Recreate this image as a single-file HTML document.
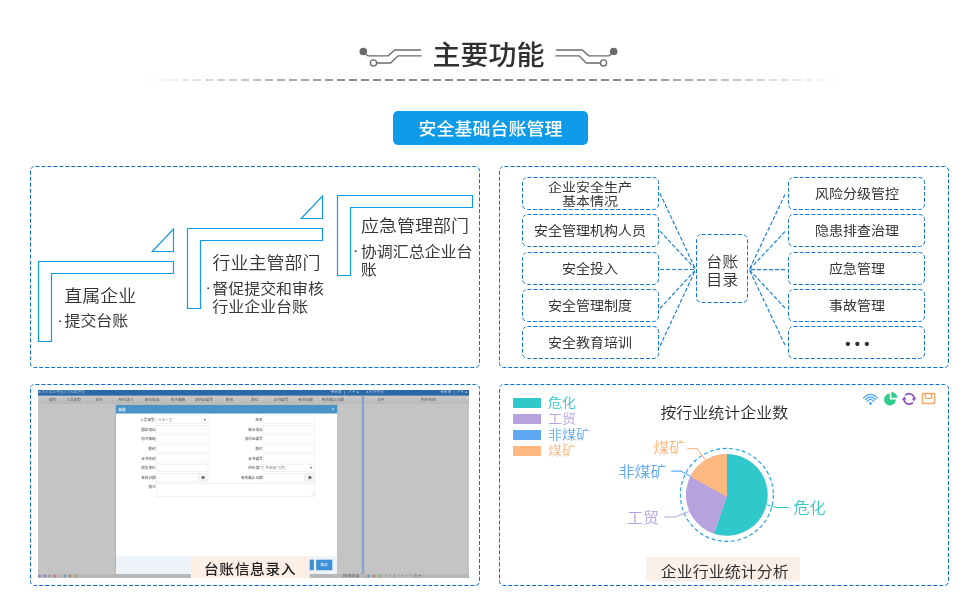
<!DOCTYPE html>
<html lang="zh-CN">
<head>
<meta charset="utf-8">
<title>主要功能 - 安全基础台账管理</title>
<style>
  html, body { margin: 0; padding: 0; background: #fff; }
  body { width: 980px; height: 613px; overflow: hidden; position: relative;
         font-family: "Liberation Sans", "Noto Sans CJK SC", sans-serif; }
  svg { position: absolute; left: 0; top: 0; display: block; will-change: transform; }
  text { font-family: "Liberation Sans", "Noto Sans CJK SC", sans-serif; }
  .panel { fill: none; stroke: #0a70d2; stroke-width: 1; }
  .box { fill: #fff; stroke: #1276d5; stroke-width: 1; }
  .ln { fill: none; stroke: #1e80da; stroke-width: 1.2; stroke-dasharray: 4 2; }
  .step { fill: #fff; stroke: #129aea; stroke-width: 1.2; stroke-linejoin: miter; }
</style>
</head>
<body>
<svg width="980" height="613" viewBox="0 0 980 613">
  <defs>
    <linearGradient id="fade" gradientUnits="userSpaceOnUse" x1="140" y1="0" x2="840" y2="0">
      <stop offset="0" stop-color="#8c8c8c" stop-opacity="0"/>
      <stop offset="0.3" stop-color="#8c8c8c" stop-opacity="1"/>
      <stop offset="0.7" stop-color="#8c8c8c" stop-opacity="1"/>
      <stop offset="1" stop-color="#8c8c8c" stop-opacity="0"/>
    </linearGradient>
    <linearGradient id="hdr" x1="0" y1="0" x2="0" y2="1">
      <stop offset="0" stop-color="#cbcbcb"/>
      <stop offset="1" stop-color="#b9b9b9"/>
    </linearGradient>
    <filter id="blur" x="-2%" y="-2%" width="104%" height="104%">
      <feGaussianBlur stdDeviation="0.65"/>
    </filter>
    <clipPath id="shotclip"><rect x="38" y="390" width="430.6" height="187.7"/></clipPath>
  </defs>

  <!-- ===== Title ===== -->
  <g id="title">
    <g fill="none" stroke="#6a6a6a" stroke-width="1.3">
      <polyline points="365.5,54 368,55.8 388.2,55.8 394.8,50 421,50"/>
      <polyline points="376.8,63 390.6,63 398,55.8 421.6,55.8"/>
      <circle cx="373.5" cy="63" r="3.1" fill="#fff"/>
      <polyline points="611.5,54 609,55.8 588.8,55.8 582.2,50 556,50"/>
      <polyline points="600.2,63 586.4,63 579,55.8 555.4,55.8"/>
      <circle cx="603.5" cy="63" r="3.1" fill="#fff"/>
    </g>
    <circle cx="363.3" cy="51.5" r="3.8" fill="#6a6a6a"/>
    <circle cx="613.7" cy="51.5" r="3.8" fill="#6a6a6a"/>
    <text transform="translate(488.5 65) scale(1 0.96)" font-size="28" font-weight="500" fill="#303030" text-anchor="middle">主要功能</text>
    <line x1="145" y1="80" x2="836" y2="80" stroke="url(#fade)" stroke-width="2" stroke-dasharray="8 4"/>
  </g>

  <!-- ===== Blue pill ===== -->
  <g id="pill">
    <rect x="393" y="111" width="195" height="34" rx="5" ry="5" fill="#0e9be9"/>
    <text transform="translate(490.5 134.5) scale(1 0.97)" font-size="18" font-weight="500" fill="#fff" text-anchor="middle">安全基础台账管理</text>
  </g>

  <!-- ===== Panel borders ===== -->
  <path class="panel" d="M31.672 167.672A4 4 0 0 1 34.5 166.5H475.5A4 4 0 0 1 479.5 170.5V363.5A4 4 0 0 1 475.5 367.5H34.5A4 4 0 0 1 30.5 363.5V170.5A4 4 0 0 1 31.672 167.672Z" stroke-dasharray="4 1.9867" stroke-dashoffset="2"/>
  <path class="panel" d="M500.672 167.672A4 4 0 0 1 503.5 166.5H944.5A4 4 0 0 1 948.5 170.5V363.5A4 4 0 0 1 944.5 367.5H503.5A4 4 0 0 1 499.5 363.5V170.5A4 4 0 0 1 500.672 167.672Z" stroke-dasharray="4 1.9867" stroke-dashoffset="2"/>
  <path class="panel" d="M31.672 385.672A4 4 0 0 1 34.5 384.5H475.5A4 4 0 0 1 479.5 388.5V581.5A4 4 0 0 1 475.5 585.5H34.5A4 4 0 0 1 30.5 581.5V388.5A4 4 0 0 1 31.672 385.672Z" stroke-dasharray="4 1.9867" stroke-dashoffset="2"/>
  <path class="panel" d="M500.672 385.672A4 4 0 0 1 503.5 384.5H944.5A4 4 0 0 1 948.5 388.5V581.5A4 4 0 0 1 944.5 585.5H503.5A4 4 0 0 1 499.5 581.5V388.5A4 4 0 0 1 500.672 385.672Z" stroke-dasharray="4 1.9867" stroke-dashoffset="2"/>

  <!-- ===== Panel 1: steps ===== -->
  <g id="steps">
    <path class="step" d="M38.5 261.5H173.5V273.5H51.5V341.5H38.5Z"/>
    <path class="step" d="M152.2 251.5H173.5V229Z"/>
    <path class="step" d="M187.5 228.5H322.5V240.5H200.5V308.5H187.5Z"/>
    <path class="step" d="M301.2 218.5H322.5V196Z"/>
    <path class="step" d="M337.5 195.5H472.5V207.5H350.5V275.5H337.5Z"/>
    <text transform="translate(64.3 302) scale(1 0.945)" font-size="18" font-weight="350" fill="#333">直属企业</text>
    <text transform="translate(57.4 324.59999999999997) scale(1 0.945)" font-size="16" font-weight="400" fill="#222">·</text>
    <text transform="translate(64.4 326.2) scale(1 0.945)" font-size="16" font-weight="400" fill="#383838">提交台账</text>
    <text transform="translate(212.5 269) scale(1 0.945)" font-size="18" font-weight="350" fill="#333">行业主管部门</text>
    <text transform="translate(205.6 292.2) scale(1 0.945)" font-size="16" font-weight="400" fill="#222">·</text>
    <text transform="translate(212.2 293.8) scale(1 0.945)" font-size="16" font-weight="400" fill="#383838">督促提交和审核</text>
    <text transform="translate(212.2 312.1) scale(1 0.945)" font-size="16" font-weight="400" fill="#383838">行业企业台账</text>
    <text transform="translate(361.0 232) scale(1 0.945)" font-size="18" font-weight="350" fill="#333">应急管理部门</text>
    <text transform="translate(352.90000000000003 255.20000000000002) scale(1 0.945)" font-size="16" font-weight="400" fill="#222">·</text>
    <text transform="translate(360.7 256.8) scale(1 0.945)" font-size="16" font-weight="400" fill="#383838">协调汇总企业台</text>
    <text transform="translate(360.7 275.1) scale(1 0.945)" font-size="16" font-weight="400" fill="#383838">账</text>
  </g>

  <!-- ===== Panel 2: catalogue ===== -->
  <g id="catalogue">
    <g class="ln">
      <line x1="660" y1="193.4" x2="695" y2="268.2"/>
      <line x1="660" y1="231.2" x2="695" y2="268.6"/>
      <line x1="660" y1="269.5" x2="695" y2="269.5"/>
      <line x1="660" y1="308.5" x2="695" y2="270.6"/>
      <line x1="660" y1="346" x2="695" y2="271"/>
      <line x1="785" y1="194.5" x2="749.3" y2="269.6"/>
      <line x1="785" y1="231.5" x2="749.3" y2="269.6"/>
      <line x1="785" y1="269.6" x2="749.3" y2="269.6"/>
      <line x1="785" y1="308" x2="749.3" y2="269.6"/>
      <line x1="785" y1="345" x2="749.3" y2="269.6"/>
    </g>
    <path class="box" d="M523.964 178.964A5 5 0 0 1 527.5 177.5H653.5A5 5 0 0 1 658.5 182.5V204.5A5 5 0 0 1 653.5 209.5H527.5A5 5 0 0 1 522.5 204.5V182.5A5 5 0 0 1 523.964 178.964Z" stroke-dasharray="4 1.9530" stroke-dashoffset="2"/>
    <path class="box" d="M523.964 215.964A5 5 0 0 1 527.5 214.5H653.5A5 5 0 0 1 658.5 219.5V241.5A5 5 0 0 1 653.5 246.5H527.5A5 5 0 0 1 522.5 241.5V219.5A5 5 0 0 1 523.964 215.964Z" stroke-dasharray="4 1.9530" stroke-dashoffset="2"/>
    <path class="box" d="M523.964 253.964A5 5 0 0 1 527.5 252.5H653.5A5 5 0 0 1 658.5 257.5V279.5A5 5 0 0 1 653.5 284.5H527.5A5 5 0 0 1 522.5 279.5V257.5A5 5 0 0 1 523.964 253.964Z" stroke-dasharray="4 1.9530" stroke-dashoffset="2"/>
    <path class="box" d="M523.964 290.964A5 5 0 0 1 527.5 289.5H653.5A5 5 0 0 1 658.5 294.5V316.5A5 5 0 0 1 653.5 321.5H527.5A5 5 0 0 1 522.5 316.5V294.5A5 5 0 0 1 523.964 290.964Z" stroke-dasharray="4 1.9530" stroke-dashoffset="2"/>
    <path class="box" d="M523.964 327.964A5 5 0 0 1 527.5 326.5H653.5A5 5 0 0 1 658.5 331.5V353.5A5 5 0 0 1 653.5 358.5H527.5A5 5 0 0 1 522.5 353.5V331.5A5 5 0 0 1 523.964 327.964Z" stroke-dasharray="4 1.9530" stroke-dashoffset="2"/>
    <path class="box" d="M697.964 235.964A5 5 0 0 1 701.5 234.5H742.5A5 5 0 0 1 747.5 239.5V297.5A5 5 0 0 1 742.5 302.5H701.5A5 5 0 0 1 696.5 297.5V239.5A5 5 0 0 1 697.964 235.964Z" stroke-dasharray="4 2.0373" stroke-dashoffset="2"/>
    <path class="box" d="M789.964 178.964A5 5 0 0 1 793.5 177.5H919.5A5 5 0 0 1 924.5 182.5V204.5A5 5 0 0 1 919.5 209.5H793.5A5 5 0 0 1 788.5 204.5V182.5A5 5 0 0 1 789.964 178.964Z" stroke-dasharray="4 1.9530" stroke-dashoffset="2"/>
    <path class="box" d="M789.964 215.964A5 5 0 0 1 793.5 214.5H919.5A5 5 0 0 1 924.5 219.5V241.5A5 5 0 0 1 919.5 246.5H793.5A5 5 0 0 1 788.5 241.5V219.5A5 5 0 0 1 789.964 215.964Z" stroke-dasharray="4 1.9530" stroke-dashoffset="2"/>
    <path class="box" d="M789.964 253.964A5 5 0 0 1 793.5 252.5H919.5A5 5 0 0 1 924.5 257.5V279.5A5 5 0 0 1 919.5 284.5H793.5A5 5 0 0 1 788.5 279.5V257.5A5 5 0 0 1 789.964 253.964Z" stroke-dasharray="4 1.9530" stroke-dashoffset="2"/>
    <path class="box" d="M789.964 290.964A5 5 0 0 1 793.5 289.5H919.5A5 5 0 0 1 924.5 294.5V316.5A5 5 0 0 1 919.5 321.5H793.5A5 5 0 0 1 788.5 316.5V294.5A5 5 0 0 1 789.964 290.964Z" stroke-dasharray="4 1.9530" stroke-dashoffset="2"/>
    <path class="box" d="M789.964 327.964A5 5 0 0 1 793.5 326.5H919.5A5 5 0 0 1 924.5 331.5V353.5A5 5 0 0 1 919.5 358.5H793.5A5 5 0 0 1 788.5 353.5V331.5A5 5 0 0 1 789.964 327.964Z" stroke-dasharray="4 1.9530" stroke-dashoffset="2"/>
    <text transform="translate(590 191.6) scale(1 0.88)" font-size="14" font-weight="400" fill="#333" text-anchor="middle">企业安全生产</text>
    <text transform="translate(590 205.5) scale(1 0.88)" font-size="14" font-weight="400" fill="#333" text-anchor="middle">基本情况</text>
    <text transform="translate(590 235.1) scale(1 0.93)" font-size="14" font-weight="400" fill="#333" text-anchor="middle">安全管理机构人员</text>
    <text transform="translate(590 273.1) scale(1 0.93)" font-size="14" font-weight="400" fill="#333" text-anchor="middle">安全投入</text>
    <text transform="translate(590 310.1) scale(1 0.93)" font-size="14" font-weight="400" fill="#333" text-anchor="middle">安全管理制度</text>
    <text transform="translate(590 347.1) scale(1 0.93)" font-size="14" font-weight="400" fill="#333" text-anchor="middle">安全教育培训</text>
    <text transform="translate(722.2 266.6) scale(1 0.945)" font-size="16" font-weight="350" fill="#333" text-anchor="middle">台账</text>
    <text transform="translate(722.2 284.8) scale(1 0.945)" font-size="16" font-weight="350" fill="#333" text-anchor="middle">目录</text>
    <text transform="translate(857 198.1) scale(1 0.93)" font-size="14" font-weight="400" fill="#333" text-anchor="middle">风险分级管控</text>
    <text transform="translate(857 235.1) scale(1 0.93)" font-size="14" font-weight="400" fill="#333" text-anchor="middle">隐患排查治理</text>
    <text transform="translate(857 273.1) scale(1 0.93)" font-size="14" font-weight="400" fill="#333" text-anchor="middle">应急管理</text>
    <text transform="translate(857 310.1) scale(1 0.93)" font-size="14" font-weight="400" fill="#333" text-anchor="middle">事故管理</text>
    <text x="845.3" y="349.2" font-size="15" font-weight="700" fill="#333" letter-spacing="4.2">•••</text>
  </g>

  <!-- ===== Panel 3: data entry screenshot ===== -->
  <g id="shot" clip-path="url(#shotclip)">
    <g filter="url(#blur)">
      <rect x="36" y="388" width="435" height="192" fill="#c4c4c4"/>
      <rect x="36" y="395.6" width="435" height="8.3" fill="url(#hdr)"/>
      <rect x="36" y="386" width="435" height="9.6" fill="#2a68a8"/>
      <rect x="361.8" y="395.6" width="2.3" height="185" fill="#86a3cb"/>
      <rect x="36" y="574.1" width="435" height="6" fill="#b8b8b8"/>
      <text x="38.6" y="392.6" font-size="3.6" font-weight="400" fill="#a9c1df" text-anchor="start" opacity="0.85">■ 企业安全管理人员档案管理</text>
      <text x="341.5" y="393.4" font-size="3.7" font-weight="500" fill="#b9cde6" text-anchor="end" opacity="0.85">✚新增</text>
      <text x="359.5" y="393.4" font-size="3.9" font-weight="500" fill="#b9cde6" text-anchor="end" opacity="0.85">↗▼▲</text>
      <rect x="344.2" y="390.5" width="0.5" height="4.6" fill="#9bb8d8"/>
      <text x="366.2" y="392.6" font-size="3.6" font-weight="400" fill="#a9c1df" text-anchor="start" opacity="0.85">■ 附件管理</text>
      <text x="451.2" y="393.4" font-size="3.7" font-weight="500" fill="#b9cde6" text-anchor="end" opacity="0.85">✚新增</text>
      <text x="456.4" y="393.4" font-size="3.9" font-weight="500" fill="#b9cde6" text-anchor="start" opacity="0.85">↗▼▲</text>
      <rect x="453.8" y="390.5" width="0.5" height="4.6" fill="#9bb8d8"/>
      <text x="52.8" y="401.1" font-size="3.7" font-weight="500" fill="#585858" text-anchor="middle" opacity="0.85">操作</text>
      <text x="73.7" y="401.1" font-size="3.7" font-weight="500" fill="#585858" text-anchor="middle" opacity="0.85">人员类型</text>
      <text x="99.3" y="401.1" font-size="3.7" font-weight="500" fill="#585858" text-anchor="middle" opacity="0.85">姓名</text>
      <text x="125.8" y="401.1" font-size="3.7" font-weight="500" fill="#585858" text-anchor="middle" opacity="0.85">所在部门</text>
      <text x="152" y="401.1" font-size="3.7" font-weight="500" fill="#585858" text-anchor="middle" opacity="0.85">移动电话</text>
      <text x="177.9" y="401.1" font-size="3.7" font-weight="500" fill="#585858" text-anchor="middle" opacity="0.85">电子邮箱</text>
      <text x="203.9" y="401.1" font-size="3.7" font-weight="500" fill="#585858" text-anchor="middle" opacity="0.85">身份证编号</text>
      <text x="229.5" y="401.1" font-size="3.7" font-weight="500" fill="#585858" text-anchor="middle" opacity="0.85">职称</text>
      <text x="255" y="401.1" font-size="3.7" font-weight="500" fill="#585858" text-anchor="middle" opacity="0.85">职位</text>
      <text x="281" y="401.1" font-size="3.7" font-weight="500" fill="#585858" text-anchor="middle" opacity="0.85">证书编号</text>
      <text x="305.4" y="401.1" font-size="3.7" font-weight="500" fill="#585858" text-anchor="middle" opacity="0.85">有效日期</text>
      <text x="332.9" y="401.1" font-size="3.7" font-weight="500" fill="#585858" text-anchor="middle" opacity="0.85">有效截止日期</text>
      <text x="381.1" y="401.1" font-size="3.7" font-weight="500" fill="#585858" text-anchor="middle" opacity="0.85">文件</text>
      <text x="428.4" y="401.1" font-size="3.7" font-weight="500" fill="#585858" text-anchor="middle" opacity="0.85">附件名称</text>
      <rect x="63" y="395.8" width="0.4" height="8" fill="#b4b4b4"/>
      <rect x="87" y="395.8" width="0.4" height="8" fill="#b4b4b4"/>
      <rect x="112" y="395.8" width="0.4" height="8" fill="#b4b4b4"/>
      <rect x="139" y="395.8" width="0.4" height="8" fill="#b4b4b4"/>
      <rect x="165" y="395.8" width="0.4" height="8" fill="#b4b4b4"/>
      <rect x="191" y="395.8" width="0.4" height="8" fill="#b4b4b4"/>
      <rect x="217" y="395.8" width="0.4" height="8" fill="#b4b4b4"/>
      <rect x="243" y="395.8" width="0.4" height="8" fill="#b4b4b4"/>
      <rect x="268" y="395.8" width="0.4" height="8" fill="#b4b4b4"/>
      <rect x="294" y="395.8" width="0.4" height="8" fill="#b4b4b4"/>
      <rect x="318" y="395.8" width="0.4" height="8" fill="#b4b4b4"/>
      <rect x="348" y="395.8" width="0.4" height="8" fill="#b4b4b4"/>
      <rect x="398" y="395.8" width="0.4" height="8" fill="#b4b4b4"/>
      <rect x="115.4" y="404.6" width="222.4" height="170" fill="#000" opacity="0.12"/>
      <rect x="116" y="405" width="221.2" height="169.1" fill="#fff"/>
      <rect x="116" y="405" width="221.2" height="8.5" fill="#4893c6"/>
      <rect x="116" y="556.3" width="221.2" height="17.8" fill="#edf1f8"/>
      <text x="118.4" y="410.6" font-size="3.7" font-weight="700" fill="#fff" text-anchor="start" opacity="0.85">新增</text>
      <text x="333" y="410.9" font-size="4.6" font-weight="400" fill="#e6f0fa" text-anchor="middle" opacity="0.85">×</text>
      <rect x="156.6" y="415.8" width="51.4" height="7.6" fill="#fff" stroke="#e4e4e4" stroke-width="0.5"/>
      <rect x="263.8" y="415.8" width="50.8" height="7.6" fill="#fff" stroke="#e4e4e4" stroke-width="0.5"/>
      <text x="155.6" y="420.90000000000003" font-size="3.6" font-weight="500" fill="#444" text-anchor="end" opacity="0.85">人员类型:</text>
      <text x="262.6" y="420.90000000000003" font-size="3.6" font-weight="500" fill="#444" text-anchor="end" opacity="0.85">姓名</text>
      <rect x="156.6" y="425.5" width="51.4" height="7.6" fill="#fff" stroke="#e4e4e4" stroke-width="0.5"/>
      <rect x="263.8" y="425.5" width="50.8" height="7.6" fill="#fff" stroke="#e4e4e4" stroke-width="0.5"/>
      <text x="155.6" y="430.6" font-size="3.6" font-weight="500" fill="#444" text-anchor="end" opacity="0.85">固定电话</text>
      <text x="262.6" y="430.6" font-size="3.6" font-weight="500" fill="#444" text-anchor="end" opacity="0.85">移动电话</text>
      <rect x="156.6" y="435.09999999999997" width="51.4" height="7.6" fill="#fff" stroke="#e4e4e4" stroke-width="0.5"/>
      <rect x="263.8" y="435.09999999999997" width="50.8" height="7.6" fill="#fff" stroke="#e4e4e4" stroke-width="0.5"/>
      <text x="155.6" y="440.2" font-size="3.6" font-weight="500" fill="#444" text-anchor="end" opacity="0.85">电子邮箱</text>
      <text x="262.6" y="440.2" font-size="3.6" font-weight="500" fill="#444" text-anchor="end" opacity="0.85">身份证编号</text>
      <rect x="156.6" y="444.8" width="51.4" height="7.6" fill="#fff" stroke="#e4e4e4" stroke-width="0.5"/>
      <rect x="263.8" y="444.8" width="50.8" height="7.6" fill="#fff" stroke="#e4e4e4" stroke-width="0.5"/>
      <text x="155.6" y="449.90000000000003" font-size="3.6" font-weight="500" fill="#444" text-anchor="end" opacity="0.85">职称</text>
      <text x="262.6" y="449.90000000000003" font-size="3.6" font-weight="500" fill="#444" text-anchor="end" opacity="0.85">职位</text>
      <rect x="156.6" y="454.5" width="51.4" height="7.6" fill="#fff" stroke="#e4e4e4" stroke-width="0.5"/>
      <rect x="263.8" y="454.5" width="50.8" height="7.6" fill="#fff" stroke="#e4e4e4" stroke-width="0.5"/>
      <text x="155.6" y="459.6" font-size="3.6" font-weight="500" fill="#444" text-anchor="end" opacity="0.85">证书名称</text>
      <text x="262.6" y="459.6" font-size="3.6" font-weight="500" fill="#444" text-anchor="end" opacity="0.85">证书编号</text>
      <rect x="156.6" y="464.09999999999997" width="51.4" height="7.6" fill="#fff" stroke="#e4e4e4" stroke-width="0.5"/>
      <rect x="263.8" y="464.09999999999997" width="50.8" height="7.6" fill="#fff" stroke="#e4e4e4" stroke-width="0.5"/>
      <text x="155.6" y="469.2" font-size="3.6" font-weight="500" fill="#444" text-anchor="end" opacity="0.85">授发单位</text>
      <text x="262.6" y="469.2" font-size="3.6" font-weight="500" fill="#444" text-anchor="end" opacity="0.85">所在部门</text>
      <rect x="156.6" y="473.7" width="41.6" height="7.6" fill="#fff" stroke="#e4e4e4" stroke-width="0.5"/>
      <rect x="263.8" y="473.7" width="41.0" height="7.6" fill="#fff" stroke="#e4e4e4" stroke-width="0.5"/>
      <text x="155.6" y="478.8" font-size="3.6" font-weight="500" fill="#444" text-anchor="end" opacity="0.85">有效日期</text>
      <text x="262.6" y="478.8" font-size="3.6" font-weight="500" fill="#444" text-anchor="end" opacity="0.85">有效截止日期</text>
      <rect x="198.2" y="473.7" width="9.8" height="7.6" fill="#f3f3f3" stroke="#e4e4e4" stroke-width="0.5"/>
      <rect x="201.7" y="476.1" width="2.8" height="2.8" fill="#666"/>
      <rect x="305" y="473.7" width="9.8" height="7.6" fill="#f3f3f3" stroke="#e4e4e4" stroke-width="0.5"/>
      <rect x="308.5" y="476.1" width="2.8" height="2.8" fill="#666"/>
      <text x="158.2" y="420.8" font-size="3.5" font-weight="400" fill="#777" text-anchor="start" opacity="0.85">从业人员</text>
      <text x="204.6" y="420.7" font-size="3.6" font-weight="400" fill="#444" text-anchor="middle" opacity="0.85">▾</text>
      <text x="265.6" y="469.1" font-size="3.5" font-weight="400" fill="#6a6a6a" text-anchor="start" opacity="0.85">外部部门(外)</text>
      <text x="311.4" y="469" font-size="3.6" font-weight="400" fill="#444" text-anchor="middle" opacity="0.85">▾</text>
      <rect x="156.6" y="483.3" width="157.7" height="13" fill="#fff" stroke="#e4e4e4" stroke-width="0.5"/>
      <text x="155.6" y="488.4" font-size="3.6" font-weight="500" fill="#444" text-anchor="end" opacity="0.85">备注</text>
      <path d="M311.6 495.6L313.6 493.6" stroke="#888" stroke-width="0.4" fill="none"/>
      <rect x="300" y="559.7" width="13.9" height="10.5" fill="#3e8fd8"/>
      <rect x="316.2" y="559.7" width="16.1" height="10.5" fill="#3e8fd8"/>
      <text x="324.2" y="566.3" font-size="3.6" font-weight="500" fill="#fff" text-anchor="middle" opacity="0.85">确定</text>
      <circle cx="39.5" cy="576" r="1.3" fill="#8a63c8" opacity="0.75"/>
      <circle cx="44.6" cy="576" r="1.3" fill="#4a8fd0" opacity="0.75"/>
      <circle cx="49.7" cy="576" r="1.3" fill="#7f8c8d" opacity="0.75"/>
      <circle cx="54.8" cy="576" r="1.3" fill="#d9534f" opacity="0.75"/>
      <circle cx="59.9" cy="576" r="1.3" fill="#b9b9b9" opacity="0.75"/>
      <circle cx="65.0" cy="576" r="1.3" fill="#4a8fd0" opacity="0.75"/>
      <circle cx="70.1" cy="576" r="1.3" fill="#d9534f" opacity="0.75"/>
      <circle cx="75.19999999999999" cy="576" r="1.3" fill="#5cb85c" opacity="0.75"/>
      <circle cx="368.5" cy="576" r="1.3" fill="#4a8fd0" opacity="0.75"/>
      <circle cx="374.2" cy="576" r="1.3" fill="#d9534f" opacity="0.75"/>
      <circle cx="379.9" cy="576" r="1.3" fill="#5cb85c" opacity="0.75"/>
      <text x="359" y="577.2" font-size="3.6" font-weight="500" fill="#4a4a4a" text-anchor="end" opacity="0.85">共0条记录</text>
      <text x="386" y="577.2" font-size="3.6" fill="#666" letter-spacing="2.6">‹‹1▪▪››↻▾</text>
      <text x="236" y="577.2" font-size="3.6" fill="#666" letter-spacing="2.6">‹‹1▪▪››↻▾</text>
    </g>
    <rect x="190.8" y="556.3" width="118.9" height="22" fill="#fcefe6"/>
    <text transform="translate(250.1 574.1) scale(1 0.91)" font-size="14.8" font-weight="500" fill="#1f1f1f" text-anchor="middle" letter-spacing="0.6">台账信息录入</text>
  </g>

  <!-- ===== Panel 4: chart ===== -->
  <g id="chart">
    <rect x="513" y="398" width="28" height="10" fill="#31c8cb"/>
    <text transform="translate(548 407.4) scale(1 0.93)" font-size="14" font-weight="350" fill="#31c8cb">危化</text>
    <rect x="513" y="414" width="28" height="10" fill="#b6a2de"/>
    <text transform="translate(548 423.4) scale(1 0.93)" font-size="14" font-weight="350" fill="#b6a2de">工贸</text>
    <rect x="513" y="430" width="28" height="10" fill="#5fa9f2"/>
    <text transform="translate(548 439.4) scale(1 0.93)" font-size="14" font-weight="350" fill="#5fa9f2">非煤矿</text>
    <rect x="513" y="446" width="28" height="10" fill="#ffb980"/>
    <text transform="translate(548 455.4) scale(1 0.93)" font-size="14" font-weight="350" fill="#ffb980">煤矿</text>
    <text transform="translate(724.3 417.8) scale(1 0.945)" font-size="16" font-weight="350" fill="#262626" text-anchor="middle">按行业统计企业数</text>
    <circle cx="726.85" cy="494.9" r="46.5" fill="none" stroke="#1e9be8" stroke-width="1.1" stroke-dasharray="4 2.5"/>
    <path d="M726.50 496.70L726.50 454.00A40.9 40.9 0 1 1 713.87 533.69L726.50 497.00Z" fill="#31c8cb"/>
    <path d="M726.90 496.70L713.87 533.69A40.9 40.9 0 0 1 726.90 454.00Z" fill="#b6a2de"/>
    <path d="M726.90 496.70L690.36 476.42A40.9 40.9 0 0 1 726.90 454.00Z" fill="#ffb980"/>
    <g fill="none" stroke-width="1.05">
      <polyline points="766.7,504.7 776.5,507.4 788.8,507.4" stroke="#31c8cb"/>
      <polyline points="688.9,511.6 674.9,517 664.4,517" stroke="#b6a2de"/>
      <polyline points="690.8,476.5 681,471.1 671.2,471.1" stroke="#5fa9f2"/>
      <polyline points="705,459.4 697,448.4 687.1,448.4" stroke="#ffb980"/>
    </g>
    <text transform="translate(793.6 513.4) scale(1 0.945)" font-size="16" font-weight="350" fill="#31c8cb">危化</text>
    <text transform="translate(659 523.1) scale(1 0.945)" font-size="16" font-weight="350" fill="#b6a2de" text-anchor="end">工贸</text>
    <text transform="translate(666.4 476.9) scale(1 0.945)" font-size="16" font-weight="350" fill="#5fa9f2" text-anchor="end">非煤矿</text>
    <text transform="translate(685.2 453.0) scale(1 0.945)" font-size="16" font-weight="350" fill="#ffb980" text-anchor="end">煤矿</text>
    <g fill="none" stroke-linecap="round">
      <g stroke="#4aa6f5" stroke-width="1.3" stroke-linecap="butt">
        <path d="M863.2 398.4Q870.5 390.5 877.8 398.4"/>
        <path d="M865 400.1Q870.5 393.7 876 400.1"/>
        <path d="M866.8 401.9Q870.5 397 874.2 401.9"/>
      </g>
      <circle cx="870.5" cy="403.5" r="1.4" fill="#4aa6f5"/>
      <path d="M889.8 393.6A5.9 5.9 0 1 0 895.8 399.5H889.8Z" fill="#2fcf8b"/>
      <path d="M891.4 391.9A5.9 5.9 0 0 1 897.3 397.8H891.4Z" fill="#2fcf8b"/>
      <g stroke="#8a4fc0" stroke-width="1.6" stroke-linecap="butt">
        <path d="M905.24 395.42A5.2 5.2 0 0 1 914.25 398.18"/>
        <path d="M912.96 402.38A5.2 5.2 0 0 1 903.95 399.62"/>
      </g>
      <path d="M911.96 398.40L916.49 397.60L913.69 401.55Z" fill="#8a4fc0"/>
      <path d="M906.24 399.40L901.71 400.20L904.51 396.25Z" fill="#8a4fc0"/>
      <g stroke="#f5a662" stroke-width="1.3" stroke-linejoin="round" stroke-linecap="butt">
        <rect x="922.4" y="393.5" width="12.2" height="10" rx="0.8"/>
        <path d="M925.3 393.6V398.3H931.7V393.6"/>
      </g>
    </g>
    <rect x="646.3" y="557" width="153.7" height="24.5" fill="#fbf0e8"/>
    <text transform="translate(724.7 576.9) scale(1 0.945)" font-size="16" font-weight="400" fill="#333" text-anchor="middle">企业行业统计分析</text>
  </g>
</svg>
</body>
</html>
